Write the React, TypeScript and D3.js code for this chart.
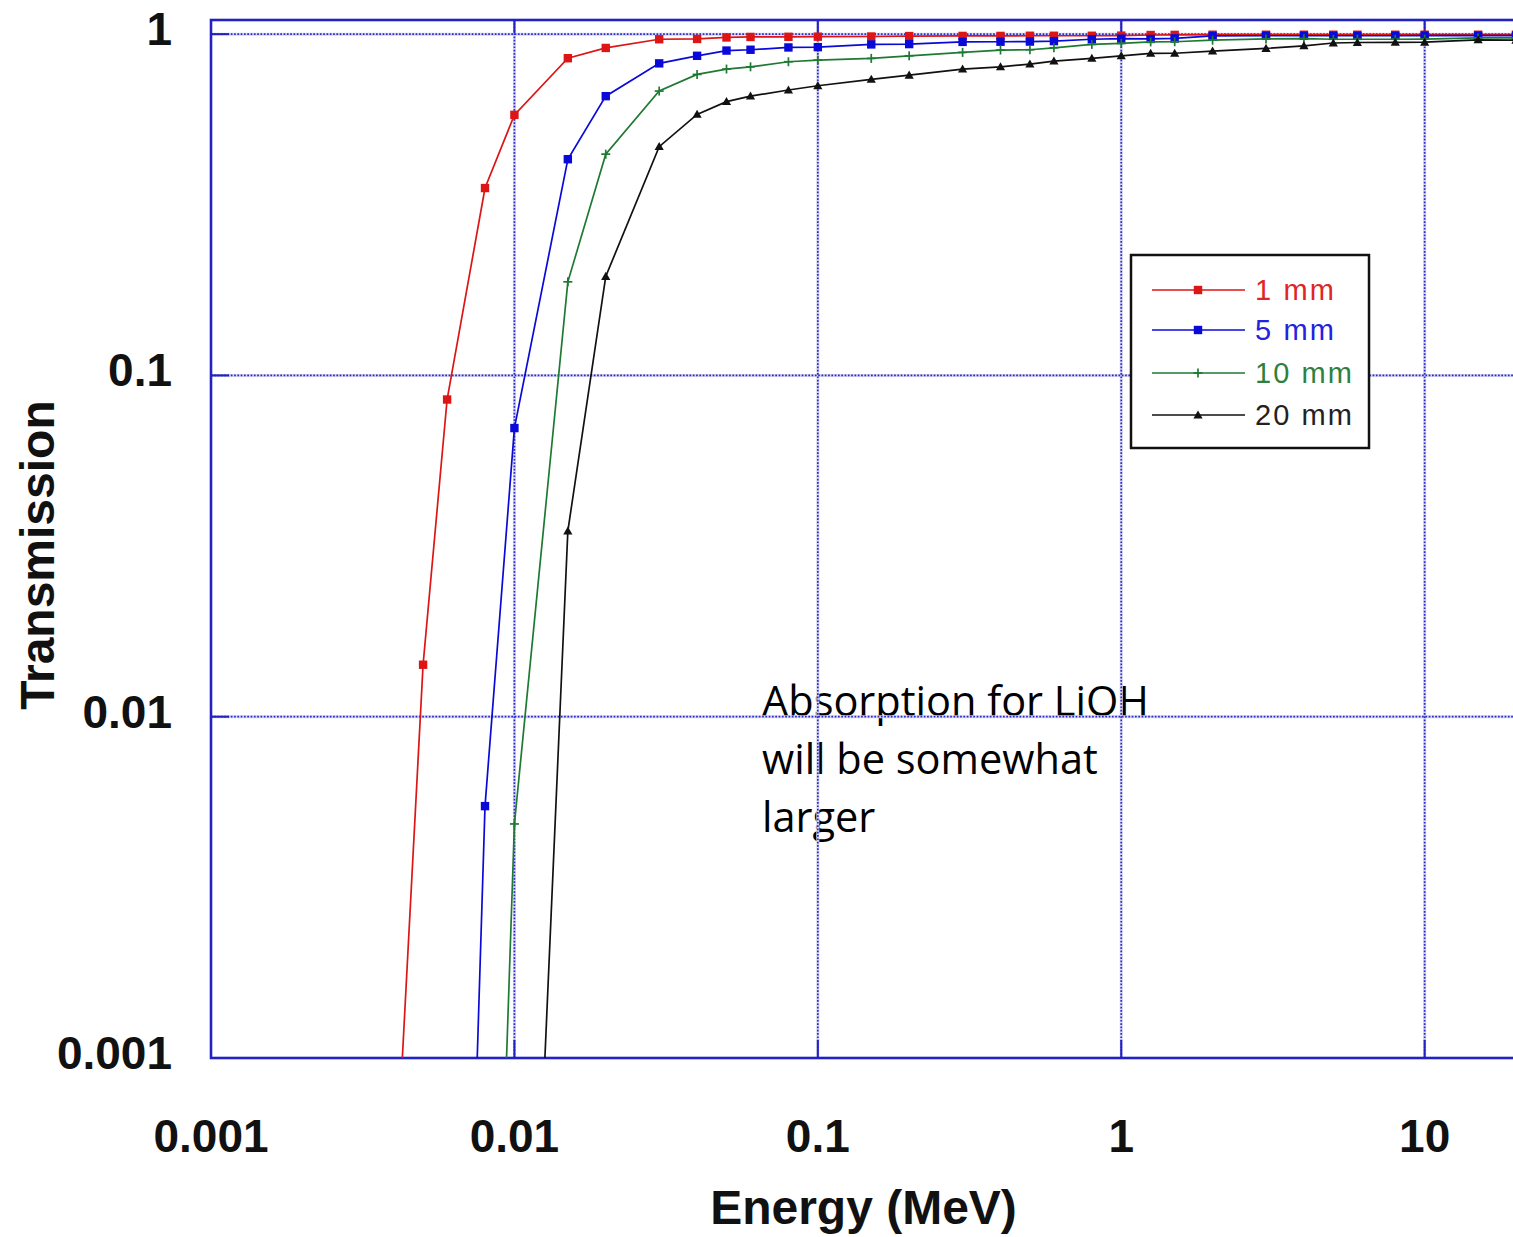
import React from "react";
import * as d3 from "d3";

// ---------- data ----------
const ENERGY_MEV = [0.004, 0.005, 0.006, 0.008, 0.01, 0.015, 0.02, 0.03, 0.04, 0.05, 0.06, 0.08, 0.1, 0.15, 0.2, 0.3, 0.4, 0.5, 0.6, 0.8, 1, 1.25, 1.5, 2, 3, 4, 5, 6, 8, 10, 15, 20];

const T_1MM = [3.3e-4, 0.0142, 0.085, 0.354, 0.58, 0.85, 0.911, 0.966, 0.968, 0.978, 0.981, 0.982, 0.983, 0.984, 0.987, 0.988, 0.988, 0.989, 0.989, 0.989, 0.99, 0.994, 0.995, 0.996, 0.996, 0.996, 0.996, 0.996, 0.996, 0.996, 0.996, 0.996];
const T_5MM = [null, null, 1.4e-6, 0.00547, 0.0701, 0.43, 0.658, 0.821, 0.864, 0.895, 0.9, 0.914, 0.916, 0.933, 0.935, 0.949, 0.95, 0.951, 0.954, 0.966, 0.97, 0.968, 0.972, 0.988, 0.989, 0.989, 0.989, 0.989, 0.989, 0.99, 0.99, 0.99];
const T_10MM = [null, null, null, 1.33e-5, 0.00485, 0.188, 0.445, 0.681, 0.762, 0.79, 0.802, 0.83, 0.839, 0.849, 0.864, 0.884, 0.898, 0.9, 0.912, 0.933, 0.939, 0.949, 0.95, 0.96, 0.968, 0.97, 0.966, 0.966, 0.966, 0.967, 0.975, 0.975];
const T_20MM = [null, null, null, null, 8.9e-6, 0.035, 0.195, 0.468, 0.582, 0.634, 0.658, 0.686, 0.706, 0.737, 0.758, 0.79, 0.802, 0.817, 0.834, 0.849, 0.864, 0.878, 0.879, 0.892, 0.908, 0.924, 0.942, 0.945, 0.946, 0.947, 0.962, 0.96];

const SERIES_NAMES = ["1 mm", "5 mm", "10 mm", "20 mm"];
const SERIES_VALUES = [T_1MM, T_5MM, T_10MM, T_20MM];
const SERIES_COLORS = ["#dd1515", "#0a0ad8", "#1e7a32", "#111111"];
const SERIES_TEXT_COLORS = ["#e02525", "#2222e0", "#2f7f40", "#222222"];
const SERIES_MARKERS = ["square", "square", "plus", "triangle"];

const X_TICKS = [0.001, 0.01, 0.1, 1, 10];
const X_TICK_LABELS = ["0.001", "0.01", "0.1", "1", "10"];
const Y_TICKS = [0.001, 0.01, 0.1, 1];
const Y_TICK_LABELS = ["0.001", "0.01", "0.1", "1"];

const X_TITLE = "Energy (MeV)";
const Y_TITLE = "Transmission";
const NOTE_LINES = ["Absorption for LiOH", "will be somewhat", "larger"];

// ---------- layout ----------
const W = 1513;
const H = 1237;
const PL = 211;
const PR = 1516;
const PT = 20;
const PB = 1058;
const FRAME = "#2222c4";
const FONT = "'Liberation Sans', Arial, Helvetica, sans-serif";

function Marker({ kind, x, y, color }: { kind: string; x: number; y: number; color: string }) {
  if (kind === "square") {
    return <rect x={x - 4.2} y={y - 4.2} width={8.4} height={8.4} fill={color} />;
  }
  if (kind === "plus") {
    return (
      <g stroke={color} strokeWidth={1.7}>
        <line x1={x - 4.5} x2={x + 4.5} y1={y} y2={y} />
        <line x1={x} x2={x} y1={y - 4.5} y2={y + 4.5} />
      </g>
    );
  }
  const s = 4.6;
  return <path d={`M${x},${y - s}L${x + s},${y + s * 0.75}L${x - s},${y + s * 0.75}Z`} fill={color} />;
}

export default function App() {
  const x = d3.scaleLog().domain([0.001, 20]).range([PL, PR]);
  const y = d3.scaleLog().domain([0.001, 1.1]).range([PB, PT]);

  const line = d3
    .line<[number, number]>()
    .x((d) => x(d[0]))
    .y((d) => y(d[1]));

  const seriesPts = SERIES_VALUES.map((vals) =>
    ENERGY_MEV.map((e, i) => [e, vals[i]] as [number, number | null]).filter((p) => p[1] != null) as [number, number][]
  );

  const legendX = 1131;
  const legendY = 255;
  const legendRows = [290, 330, 373, 415];

  const gridX = X_TICKS.filter((t) => t > 0.001);
  const gridY = Y_TICKS.filter((t) => t > 0.001);

  return (
    <svg
      width={W}
      height={H}
      viewBox={`0 0 ${W} ${H}`}
      style={{ position: "absolute", left: 0, top: 0, background: "#fff" }}
    >
      <defs>
        <clipPath id="plotClip">
          <rect x={PL} y={PT} width={PR - PL} height={PB - PT} />
        </clipPath>
      </defs>
      <rect x={0} y={0} width={W} height={H} fill="#fff" />

      {/* annotation */}
      <g fontFamily="'Open Sans', 'Noto Sans', sans-serif" fontSize={41.5} fill="#000">
        {NOTE_LINES.map((t, i) => (
          <text key={t} x={762} y={716 + i * 58}>
            {t}
          </text>
        ))}
      </g>

      {/* grid */}
      <g stroke="#d4d4ec" strokeWidth={3} fill="none">
        {gridX.map((t) => (
          <line key={"bx" + t} x1={x(t)} x2={x(t)} y1={PT} y2={PB} />
        ))}
        {gridY.map((t) => (
          <line key={"by" + t} x1={PL} x2={PR} y1={y(t)} y2={y(t)} />
        ))}
      </g>
      <g stroke="#2a2ad0" strokeWidth={1.7} strokeDasharray="1.7 1.6" fill="none">
        {gridX.map((t) => (
          <line key={"gx" + t} x1={x(t)} x2={x(t)} y1={PT} y2={PB} />
        ))}
        {gridY.map((t) => (
          <line key={"gy" + t} x1={PL} x2={PR} y1={y(t)} y2={y(t)} />
        ))}
      </g>

      {/* ticks */}
      <g stroke={FRAME} strokeWidth={2}>
        {X_TICKS.map((t) => (
          <g key={"tx" + t}>
            <line x1={x(t)} x2={x(t)} y1={PB} y2={PB - 18} />
            <line x1={x(t)} x2={x(t)} y1={PT} y2={PT + 13} />
          </g>
        ))}
        {Y_TICKS.map((t) => (
          <line key={"ty" + t} x1={PL} x2={PL + 18} y1={y(t)} y2={y(t)} />
        ))}
      </g>

      {/* frame */}
      <rect x={PL} y={PT} width={PR - PL} height={PB - PT} fill="none" stroke={FRAME} strokeWidth={2.6} />

      {/* series */}
      <g clipPath="url(#plotClip)">
        {seriesPts.map((pts, si) => (
          <g key={SERIES_NAMES[si]}>
            <path d={line(pts) || ""} fill="none" stroke={SERIES_COLORS[si]} strokeWidth={1.7} />
            {pts.map((p, i) => (
              <Marker key={i} kind={SERIES_MARKERS[si]} x={x(p[0])} y={y(p[1])} color={SERIES_COLORS[si]} />
            ))}
          </g>
        ))}
      </g>

      {/* tick labels */}
      <g fontFamily={FONT} fontWeight="bold" fontSize={46} fill="#111">
        {X_TICKS.map((t, i) => (
          <text key={"lx" + t} x={x(t)} y={1152} textAnchor="middle">
            {X_TICK_LABELS[i]}
          </text>
        ))}
        {Y_TICKS.map((t, i) => (
          <text key={"ly" + t} x={172} y={y(t) + 11} textAnchor="end">
            {Y_TICK_LABELS[i]}
          </text>
        ))}
      </g>

      {/* axis titles */}
      <text x={(PL + PR) / 2} y={1224} textAnchor="middle" fontFamily={FONT} fontWeight="bold" fontSize={48} fill="#111">
        {X_TITLE}
      </text>
      <text
        transform={`translate(54,555) rotate(-90)`}
        textAnchor="middle"
        fontFamily={FONT}
        fontWeight="bold"
        fontSize={48}
        fill="#111"
      >
        {Y_TITLE}
      </text>

      {/* legend */}
      <rect x={legendX} y={legendY} width={238} height={193} fill="#fff" stroke="#111" strokeWidth={2.5} />
      {SERIES_NAMES.map((name, i) => (
        <g key={"lg" + name}>
          <line x1={1152} x2={1245} y1={legendRows[i]} y2={legendRows[i]} stroke={SERIES_COLORS[i]} strokeWidth={1.7} />
          <Marker kind={SERIES_MARKERS[i]} x={1198} y={legendRows[i]} color={SERIES_COLORS[i]} />
          <text
            x={1255}
            y={legendRows[i] + 10}
            fontFamily={FONT}
            fontSize={29}
            letterSpacing={2.1}
            fill={SERIES_TEXT_COLORS[i]}
          >
            {name}
          </text>
        </g>
      ))}
    </svg>
  );
}
